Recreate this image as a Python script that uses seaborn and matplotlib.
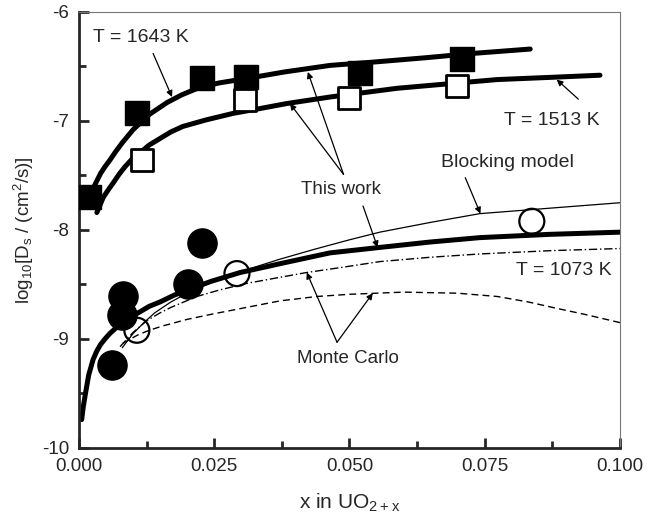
import numpy as np
import pandas as pd
import matplotlib
matplotlib.use("Agg")
import matplotlib.pyplot as plt
import seaborn as sns
from matplotlib.ticker import MultipleLocator

# measured points
x_1643 = [0.0018, 0.0107, 0.0227, 0.0309, 0.0519, 0.0708]
y_1643 = [-7.70, -6.93, -6.61, -6.60, -6.56, -6.43]

x_1513 = [0.0116, 0.0307, 0.0499, 0.0699]
y_1513 = [-7.36, -6.81, -6.79, -6.68]

x_1073_fill = [0.0227, 0.0202, 0.0081, 0.0079, 0.0061]
y_1073_fill = [-8.12, -8.50, -8.61, -8.78, -9.24]

x_1073_open = [0.0107, 0.0292, 0.0837]
y_1073_open = [-8.92, -8.40, -7.92]

# fitted curves ("This work")
cx_1643 = [0.0026, 0.0033, 0.0040, 0.0048, 0.0057, 0.0068, 0.0080, 0.0100, 0.0130, 0.0163, 0.0190, 0.0224, 0.0260, 0.0310, 0.0380, 0.0464, 0.0543, 0.0640, 0.0728, 0.0834]
cy_1643 = [-7.62, -7.55, -7.48, -7.42, -7.36, -7.28, -7.20, -7.08, -6.94, -6.83, -6.76, -6.69, -6.65, -6.61, -6.55, -6.49, -6.46, -6.42, -6.38, -6.34]

cx_1513 = [0.0033, 0.0039, 0.0045, 0.0053, 0.0063, 0.0074, 0.0085, 0.0098, 0.0113, 0.0130, 0.0150, 0.0170, 0.0192, 0.0235, 0.0285, 0.0330, 0.0384, 0.0464, 0.0588, 0.0680, 0.0773, 0.0870, 0.0963]
cy_1513 = [-7.84, -7.77, -7.70, -7.64, -7.57, -7.49, -7.42, -7.35, -7.29, -7.22, -7.16, -7.10, -7.05, -6.99, -6.93, -6.89, -6.84, -6.78, -6.70, -6.66, -6.62, -6.60, -6.58]

cx_1073 = [0.0005, 0.0008, 0.0012, 0.0018, 0.0026, 0.0033, 0.0040, 0.0048, 0.0057, 0.0068, 0.0080, 0.0095, 0.0113, 0.0130, 0.0150, 0.0175, 0.0200, 0.0245, 0.0298, 0.0380, 0.0464, 0.0556, 0.0650, 0.0741, 0.0870, 0.1000]
cy_1073 = [-9.74, -9.62, -9.50, -9.33, -9.19, -9.11, -9.05, -9.00, -8.95, -8.90, -8.85, -8.80, -8.75, -8.70, -8.66, -8.60, -8.55, -8.47, -8.39, -8.30, -8.21, -8.16, -8.11, -8.07, -8.04, -8.02]

# blocking model
bx = [0.0080, 0.0100, 0.0120, 0.0140, 0.0170, 0.0200, 0.0250, 0.0300, 0.0370, 0.0433, 0.0500, 0.0556, 0.0650, 0.0741, 0.0870, 0.1000]
by = [-9.08, -8.95, -8.85, -8.76, -8.66, -8.58, -8.47, -8.38, -8.27, -8.18, -8.09, -8.02, -7.93, -7.85, -7.80, -7.75]

# Monte Carlo (dash-dot and dashed)
mc1_x = [0.0076, 0.0100, 0.0126, 0.0150, 0.0170, 0.0218, 0.0260, 0.0310, 0.0365, 0.0421, 0.0490, 0.0556, 0.0650, 0.0741, 0.0870, 0.1000]
mc1_y = [-9.07, -8.94, -8.83, -8.76, -8.71, -8.61, -8.55, -8.49, -8.44, -8.39, -8.34, -8.29, -8.25, -8.22, -8.19, -8.17]

mc2_x = [0.0081, 0.0095, 0.0110, 0.0130, 0.0155, 0.0200, 0.0248, 0.0310, 0.0372, 0.0440, 0.0500, 0.0600, 0.0700, 0.0773, 0.0830, 0.0884, 0.0940, 0.1000]
mc2_y = [-9.04, -9.00, -8.96, -8.92, -8.88, -8.82, -8.77, -8.71, -8.65, -8.61, -8.59, -8.57, -8.58, -8.61, -8.66, -8.72, -8.78, -8.85]

sns.set_style("ticks")
plt.rcParams["font.family"] = ["Liberation Sans", "DejaVu Sans"]
plt.rcParams["mathtext.default"] = "regular"

fig = plt.figure(figsize=(6.57, 5.17), dpi=100)
ax = fig.add_axes([0.1202, 0.1335, 0.8235, 0.8433])

k = dict(sort=False, estimator=None, color="black", ax=ax, legend=False)
sns.lineplot(x=cx_1643, y=cy_1643, linewidth=3.6, solid_capstyle="round", **k)
sns.lineplot(x=cx_1513, y=cy_1513, linewidth=3.6, solid_capstyle="round", **k)
sns.lineplot(x=cx_1073, y=cy_1073, linewidth=3.6, solid_capstyle="round", **k)
sns.lineplot(x=bx, y=by, linewidth=0.9, **k)
sns.lineplot(x=mc1_x, y=mc1_y, linewidth=1.0, linestyle=(0, (6, 2, 1, 2)), **k)
sns.lineplot(x=mc2_x, y=mc2_y, linewidth=1.0, linestyle=(0, (5, 3)), **k)

ax.scatter(x_1643, y_1643, marker="s", s=17**2, color="black", zorder=3)
ax.scatter(x_1513, y_1513, marker="s", s=16**2, facecolor="white", edgecolor="black", linewidth=2, zorder=3)
ax.scatter(x_1073_fill, y_1073_fill, marker="o", s=21**2, color="black", zorder=3)
ax.scatter(x_1073_open, y_1073_open, marker="o", s=18**2, facecolor="none", edgecolor="black", linewidth=1.6, zorder=3)

ax.set_xlim(0, 0.1)
ax.set_ylim(-10, -6)
ax.xaxis.set_major_locator(MultipleLocator(0.025))
ax.xaxis.set_minor_locator(MultipleLocator(0.0125))
ax.yaxis.set_major_locator(MultipleLocator(1))
ax.yaxis.set_minor_locator(MultipleLocator(0.5))
ax.set_xticklabels(["%.3f" % v for v in ax.get_xticks()])
ax.set_yticklabels(["%d" % v for v in ax.get_yticks()])
ax.tick_params(which="both", direction="in", width=2, labelsize=13.5, top=False, right=False)
ax.tick_params(which="major", length=7, pad=7)
ax.tick_params(which="minor", length=5)

for s in ["left", "bottom"]:
    ax.spines[s].set_linewidth(2)
for s in ["top", "right"]:
    ax.spines[s].set_linewidth(0.8)
    ax.spines[s].set_color("#777777")

ax.set_xlabel("x in UO$_{2+x}$", fontsize=15, labelpad=12)
ax.set_ylabel("log$_{10}$[D$_s$ / (cm$^2$/s)]", fontsize=13.5, labelpad=4)

ap = dict(arrowstyle="-|>", color="black", lw=0.9, mutation_scale=9, shrinkA=0, shrinkB=0)
fs = 14
ax.text(0.0026, -6.23, "T = 1643 K", fontsize=fs, va="center")
ax.annotate("", xy=(0.0172, -6.78), xytext=(0.0137, -6.38), arrowprops=ap)
ax.text(0.0963, -7.0, "T = 1513 K", fontsize=fs, va="center", ha="right")
ax.annotate("", xy=(0.0883, -6.62), xytext=(0.0923, -6.80), arrowprops=ap)
ax.text(0.0484, -7.63, "This work", fontsize=13.5, va="center", ha="center")
ax.annotate("", xy=(0.0423, -6.55), xytext=(0.0489, -7.49), arrowprops=ap)
ax.annotate("", xy=(0.0390, -6.84), xytext=(0.0489, -7.49), arrowprops=ap)
ax.annotate("", xy=(0.0552, -8.16), xytext=(0.0525, -7.78), arrowprops=ap)
ax.text(0.0914, -7.38, "Blocking model", fontsize=fs, va="center", ha="right")
ax.annotate("", xy=(0.0742, -7.85), xytext=(0.0714, -7.52), arrowprops=ap)
ax.text(0.0985, -8.37, "T = 1073 K", fontsize=fs, va="center", ha="right")
ax.text(0.0497, -9.18, "Monte Carlo", fontsize=13.5, va="center", ha="center")
ax.annotate("", xy=(0.0421, -8.39), xytext=(0.0477, -9.03), arrowprops=ap)
ax.annotate("", xy=(0.0543, -8.58), xytext=(0.0477, -9.03), arrowprops=ap)

fig.savefig("out.png", dpi=100)
